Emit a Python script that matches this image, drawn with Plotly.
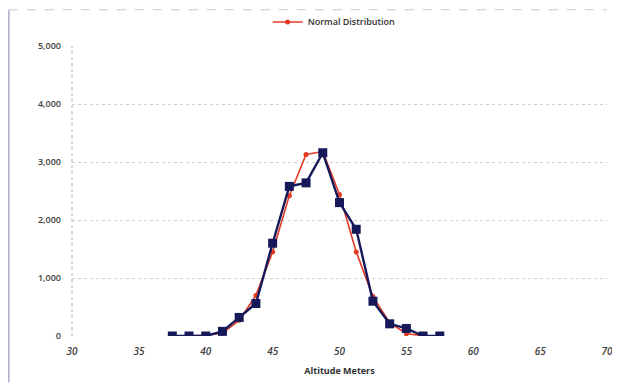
import plotly.graph_objects as go

# altitude bins (meters)
altitude = [37.5, 38.75, 40, 41.25, 42.5, 43.75, 45, 46.25, 47.5, 48.75,
            50, 51.25, 52.5, 53.75, 55, 56.25, 57.5]
# observed counts
observed = [0, 0, 0, 80, 320, 560, 1600, 2580, 2640, 3160,
            2300, 1840, 600, 210, 130, 0, 0]
# fitted normal distribution
normal = [0, 0, 10, 50, 270, 700, 1450, 2420, 3130, 3180,
          2440, 1450, 680, 230, 40, 5, 0]

x_ticks = [30, 35, 40, 45, 50, 55, 60, 65, 70]
y_ticks = [0, 1000, 2000, 3000, 4000, 5000]

fig = go.Figure()

fig.add_trace(go.Scatter(
    x=altitude, y=normal, name='Normal Distribution', mode='lines+markers',
    line=dict(color='#e23a24', width=1.6),
    marker=dict(symbol='circle', size=5, color='#e23a24'),
    showlegend=True
))
fig.add_trace(go.Scatter(
    x=altitude, y=observed, name='Observed', mode='lines+markers',
    line=dict(color='#15195a', width=2.4),
    marker=dict(symbol='square', size=9, color='#15195a'),
    showlegend=False
))

# page has an 8px body margin, so the figure is a bit smaller than the window
fig.update_layout(
    width=612, height=377,
    margin=dict(l=64, r=13, t=38, b=49, autoexpand=False),
    paper_bgcolor='white', plot_bgcolor='white',
    font=dict(family='Open Sans, Arial, sans-serif', size=10, color='#404040'),
    legend=dict(orientation='h', x=0.49, xanchor='center', y=1.083, yanchor='middle',
                font=dict(size=9, color='#303030', weight=600), bgcolor='rgba(0,0,0,0)'),
    shapes=[
        dict(type='line', xref='paper', yref='paper', x0=-0.118, x1=-0.118, y0=-0.16, y1=1.125,
             line=dict(color='#b8a8cc', width=1.5)),
        dict(type='line', xref='paper', yref='paper', x0=-0.118, x1=1.0, y0=1.125, y1=1.125,
             line=dict(color='#c8c8d8', width=1, dash='dash')),
        dict(type='line', xref='paper', yref='paper', x0=0, x1=0, y0=0, y1=1,
             line=dict(color='#b0b0c8', width=1, dash='dot')),
    ],
)

fig.update_xaxes(
    range=[30, 70], tickvals=x_ticks, ticks='', showgrid=False, zeroline=False,
    showline=False, ticklabelstandoff=8,
    tickfont=dict(size=10, color='#404040', style='italic', weight=600),
    title=dict(text='<b>Altitude Meters</b>', font=dict(size=9, color='#303030'), standoff=10)
)
fig.update_yaxes(
    range=[0, 5000], tickvals=y_ticks, tickformat=',', ticks='', ticklabelstandoff=10,
    showgrid=True, gridcolor='#cfcfcf', griddash='dot', gridwidth=1, zeroline=False,
    showline=False, tickfont=dict(size=9, color='#404040', weight=600)
)

fig.write_html("out.html")
